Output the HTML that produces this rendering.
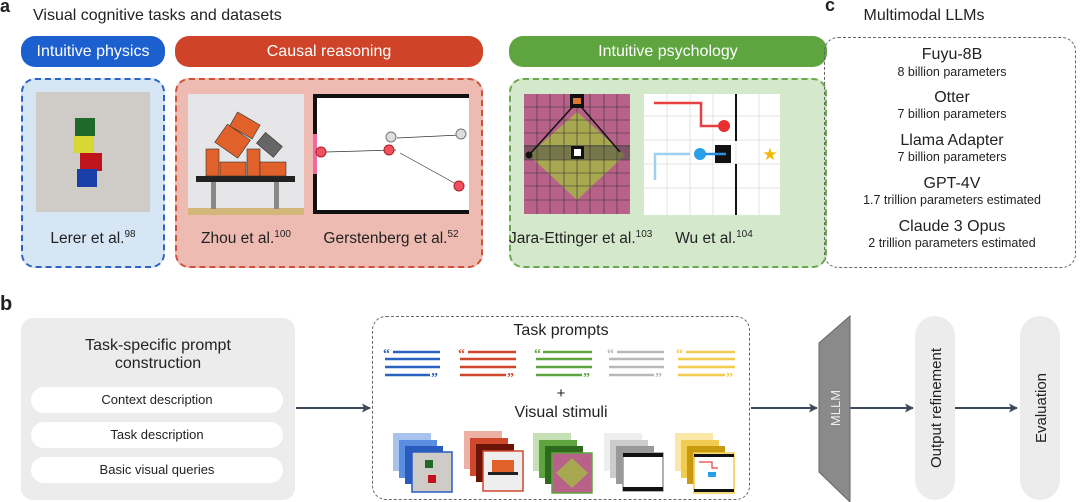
<!DOCTYPE html>
<html><head><meta charset="utf-8"><style>
*{margin:0;padding:0;box-sizing:border-box}
body{width:1080px;height:502px;background:#fff;position:relative;overflow:hidden;font-family:"Liberation Sans",sans-serif;color:#222}
.a{position:absolute}
.pill{position:absolute;border-radius:14px;color:#fff;font-size:16px;text-align:center;line-height:31px}
.box{position:absolute;border:2px dashed;border-radius:14px}
.lbl{position:absolute;font-size:15.5px;text-align:center;white-space:nowrap}
sup{font-size:10px}
.m{position:absolute;left:824px;width:256px;text-align:center;white-space:nowrap}
.m1{font-size:16px}.m2{font-size:12.5px}
.wp{position:absolute;left:31px;width:252px;height:26px;background:#fff;border-radius:13px;font-size:13px;text-align:center;line-height:26px}
</style></head><body>
<div class="a" style="left:0;top:-4px;font-size:18px;font-weight:bold">a</div>
<div class="a" style="left:33px;top:7px;font-size:16px">Visual cognitive tasks and datasets</div>
<div class="pill" style="left:21px;top:36px;width:144px;background:#1c5fcf">Intuitive physics</div>
<div class="pill" style="left:175px;top:36px;width:308px;background:#cf4428">Causal reasoning</div>
<div class="pill" style="left:509px;top:36px;width:318px;background:#5ea540">Intuitive psychology</div>
<div class="box" style="left:21px;top:78px;width:144px;height:190px;background:#d6e6f5;border-color:#2c63c6"></div>
<div class="box" style="left:175px;top:78px;width:308px;height:190px;background:#eebbb2;border-color:#d0503a"></div>
<div class="box" style="left:509px;top:78px;width:318px;height:190px;background:#d4e8cb;border-color:#6aa84f"></div>
<svg class="a" style="left:0;top:0" width="1080" height="502">
<rect x="36" y="92" width="114" height="120" fill="#cfccc8"/>
<rect x="75" y="118" width="20" height="18" fill="#1d6a2a"/>
<rect x="74" y="136" width="20" height="17" fill="#d8d834"/>
<rect x="80" y="153" width="22" height="18" fill="#c0141c"/>
<rect x="77" y="169" width="20" height="18" fill="#1b3fa8"/>
<rect x="188" y="94" width="116" height="121" fill="#e6e6e8"/>
<rect x="188" y="208" width="116" height="7" fill="#d2b67a"/>
<rect x="196" y="176" width="99" height="6" fill="#222"/>
<rect x="211" y="182" width="5" height="27" fill="#888"/><rect x="274" y="182" width="5" height="27" fill="#888"/>
<rect x="206" y="149" width="13" height="27" fill="#e0622a" stroke="#333" stroke-width=".6"/>
<rect x="220" y="162" width="26" height="14" fill="#e0622a" stroke="#333" stroke-width=".6"/>
<rect x="247" y="149" width="13" height="27" fill="#e0622a" stroke="#333" stroke-width=".6"/>
<rect x="260" y="162" width="26" height="14" fill="#e0622a" stroke="#333" stroke-width=".6"/>
<g transform="rotate(35 232 142)"><rect x="218" y="130" width="28" height="22" fill="#e0622a" stroke="#333" stroke-width=".6"/></g>
<g transform="rotate(30 244 125)"><rect x="232" y="117" width="26" height="16" fill="#e0622a" stroke="#333" stroke-width=".6"/></g>
<g transform="rotate(40 268 145)"><rect x="258" y="137" width="22" height="14" fill="#666" stroke="#333" stroke-width=".6"/></g>
<rect x="313" y="94" width="156" height="120" fill="#fff"/>
<rect x="313" y="94" width="156" height="4" fill="#111"/><rect x="313" y="210" width="156" height="4" fill="#111"/>
<rect x="313" y="94" width="4" height="40" fill="#111"/><rect x="313" y="174" width="4" height="40" fill="#111"/>
<rect x="313" y="134" width="4" height="40" fill="#f06aa0"/>
<line x1="460" y1="135" x2="397" y2="138" stroke="#333" stroke-width=".7"/>
<line x1="396" y1="150" x2="326" y2="152" stroke="#333" stroke-width=".7"/>
<line x1="458" y1="185" x2="400" y2="153" stroke="#333" stroke-width=".7"/>
<circle cx="461" cy="134" r="5" fill="#ddd" stroke="#777"/><circle cx="391" cy="137" r="5" fill="#ddd" stroke="#777"/>
<circle cx="389" cy="150" r="5" fill="#f05060" stroke="#a22"/><circle cx="321" cy="152" r="5" fill="#f05060" stroke="#a22"/><circle cx="459" cy="186" r="5" fill="#f05060" stroke="#a22"/>
<rect x="524" y="94" width="106" height="120" fill="#b8628a"/>
<polygon points="577,112 625,155 577,200 529,155" fill="#a8a850"/>
<rect x="524" y="145" width="106" height="15" fill="#444" opacity=".5"/>
<g stroke="#333" stroke-width=".6">
<line x1="537" y1="94" x2="537" y2="214"/><line x1="550" y1="94" x2="550" y2="214"/><line x1="564" y1="94" x2="564" y2="214"/><line x1="577" y1="94" x2="577" y2="214"/><line x1="590" y1="94" x2="590" y2="214"/><line x1="604" y1="94" x2="604" y2="214"/><line x1="617" y1="94" x2="617" y2="214"/>
<line x1="524" y1="107" x2="630" y2="107"/><line x1="524" y1="120" x2="630" y2="120"/><line x1="524" y1="133" x2="630" y2="133"/><line x1="524" y1="146" x2="630" y2="146"/><line x1="524" y1="160" x2="630" y2="160"/><line x1="524" y1="173" x2="630" y2="173"/><line x1="524" y1="186" x2="630" y2="186"/><line x1="524" y1="200" x2="630" y2="200"/></g>
<polyline points="529,155 577,102 620,152" fill="none" stroke="#111" stroke-width="1.5"/>
<rect x="570" y="94" width="14" height="14" fill="#111"/><rect x="573" y="98" width="8" height="6" fill="#e07830"/>
<rect x="571" y="146" width="13" height="13" fill="#111"/><rect x="574" y="149" width="7" height="7" fill="#fff"/>
<circle cx="529" cy="155" r="3.5" fill="#111"/>
<rect x="644" y="94" width="136" height="121" fill="#fff"/>
<g stroke="#ddd" stroke-width=".8">
<line x1="667" y1="94" x2="667" y2="215"/><line x1="690" y1="94" x2="690" y2="215"/><line x1="713" y1="94" x2="713" y2="215"/><line x1="736" y1="94" x2="736" y2="215"/><line x1="759" y1="94" x2="759" y2="215"/>
<line x1="644" y1="116" x2="780" y2="116"/><line x1="644" y1="140" x2="780" y2="140"/><line x1="644" y1="164" x2="780" y2="164"/><line x1="644" y1="188" x2="780" y2="188"/></g>
<line x1="736" y1="94" x2="736" y2="141" stroke="#111" stroke-width="2"/><line x1="736" y1="164" x2="736" y2="215" stroke="#111" stroke-width="2"/>
<polyline points="654,103 701,103 701,126 718,126" fill="none" stroke="#e84040" stroke-width="2.5"/>
<circle cx="724" cy="126" r="6" fill="#e83030"/>
<polyline points="655,180 655,154 690,154" fill="none" stroke="#9dd0f0" stroke-width="2.5"/>
<circle cx="700" cy="154" r="6" fill="#2aa0e8"/>
<rect x="715" y="145" width="16" height="18" fill="#111"/>
<line x1="705" y1="154" x2="726" y2="154" stroke="#2a90e0" stroke-width="2.5"/>
<text x="770" y="160" font-size="17" fill="#f0b800" text-anchor="middle">★</text>
</svg>
<div class="lbl" style="left:21px;width:144px;top:229px">Lerer et al.<sup>98</sup></div>
<div class="lbl" style="left:188px;width:116px;top:229px">Zhou et al.<sup>100</sup></div>
<div class="lbl" style="left:313px;width:156px;top:229px">Gerstenberg et al.<sup>52</sup></div>
<div class="lbl" style="left:509px;width:130px;top:229px">Jara-Ettinger et al.<sup>103</sup></div>
<div class="lbl" style="left:664px;width:100px;top:229px">Wu et al.<sup>104</sup></div>
<div class="a" style="left:825px;top:-5px;font-size:18px;font-weight:bold">c</div>
<div class="a" style="left:824px;width:200px;text-align:center;top:7px;font-size:16px">Multimodal LLMs</div>
<div class="box" style="left:824px;top:37px;width:252px;height:231px;border-color:#666;border-width:1.5px"></div>
<div class="m m1" style="top:46px">Fuyu-8B</div><div class="m m2" style="top:65px">8 billion parameters</div>
<div class="m m1" style="top:89px">Otter</div><div class="m m2" style="top:107px">7 billion parameters</div>
<div class="m m1" style="top:132px">Llama Adapter</div><div class="m m2" style="top:150px">7 billion parameters</div>
<div class="m m1" style="top:175px">GPT-4V</div><div class="m m2" style="top:193px">1.7 trillion parameters estimated</div>
<div class="m m1" style="top:218px">Claude 3 Opus</div><div class="m m2" style="top:236px">2 trillion parameters estimated</div>
<div class="a" style="left:0;top:293px;font-size:20px;font-weight:bold">b</div>
<div class="a" style="left:21px;top:318px;width:274px;height:182px;background:#ececec;border-radius:12px"></div>
<div class="a" style="left:21px;width:274px;top:337px;text-align:center;font-size:16px;line-height:18px">Task-specific prompt<br>construction</div>
<div class="wp" style="top:387px">Context description</div>
<div class="wp" style="top:422px">Task description</div>
<div class="wp" style="top:457px">Basic visual queries</div>
<div class="box" style="left:372px;top:316px;width:378px;height:184px;border-color:#666;border-width:1.5px"></div>
<div class="a" style="left:372px;width:378px;text-align:center;top:322px;font-size:16px">Task prompts</div>
<div class="a" style="left:372px;width:378px;text-align:center;top:385px;font-size:15px">+</div>
<div class="a" style="left:372px;width:378px;text-align:center;top:404px;font-size:16px">Visual stimuli</div>
<div class="a" style="left:915px;top:316px;width:40px;height:184px;background:#ececec;border-radius:20px"></div>
<div class="a" style="left:1020px;top:316px;width:40px;height:184px;background:#ececec;border-radius:20px"></div>
<svg class="a" style="left:0;top:0" width="1080" height="502">
<defs><marker id="ar" markerUnits="userSpaceOnUse" markerWidth="9" markerHeight="9" refX="8" refY="4.5" orient="auto"><path d="M0,0 L9,4.5 L0,9 L2,4.5 Z" fill="#3e4a5c"/></marker></defs>
<g stroke="#3e4a5c" stroke-width="2" marker-end="url(#ar)">
<line x1="296" y1="408" x2="370" y2="408"/><line x1="751" y1="408" x2="817" y2="408"/>
<line x1="850" y1="408" x2="913" y2="408"/><line x1="955" y1="408" x2="1017" y2="408"/></g>
<polygon points="819,343 850,316 850,502 819,472" fill="#8a8a8a" stroke="#666"/>
<text transform="translate(840,408) rotate(-90)" text-anchor="middle" font-size="13" fill="#eee" font-family="Liberation Sans">MLLM</text>
<text transform="translate(941,408) rotate(-90)" text-anchor="middle" font-size="15" fill="#222" font-family="Liberation Sans">Output refinement</text>
<text transform="translate(1046,408) rotate(-90)" text-anchor="middle" font-size="15" fill="#222" font-family="Liberation Sans">Evaluation</text>
<g stroke-width="2.5" font-family="Liberation Serif" font-weight="bold" font-size="14">
<g stroke="#2a62c0" fill="#2a62c0"><line x1="393" y1="352" x2="440" y2="352"/><line x1="385" y1="359" x2="440" y2="359"/><line x1="385" y1="367" x2="440" y2="367"/><line x1="385" y1="375" x2="430" y2="375"/><text x="383" y="358" stroke="none">“</text><text x="431" y="382" stroke="none">”</text></g>
<g stroke="#d0482c" fill="#d0482c"><line x1="468" y1="352" x2="516" y2="352"/><line x1="460" y1="359" x2="516" y2="359"/><line x1="460" y1="367" x2="516" y2="367"/><line x1="460" y1="375" x2="506" y2="375"/><text x="458" y="358" stroke="none">“</text><text x="507" y="382" stroke="none">”</text></g>
<g stroke="#5ea540" fill="#5ea540"><line x1="543" y1="352" x2="592" y2="352"/><line x1="536" y1="359" x2="592" y2="359"/><line x1="536" y1="367" x2="592" y2="367"/><line x1="536" y1="375" x2="582" y2="375"/><text x="534" y="358" stroke="none">“</text><text x="583" y="382" stroke="none">”</text></g>
<g stroke="#b8b8b8" fill="#b8b8b8"><line x1="617" y1="352" x2="664" y2="352"/><line x1="609" y1="359" x2="664" y2="359"/><line x1="609" y1="367" x2="664" y2="367"/><line x1="609" y1="375" x2="654" y2="375"/><text x="607" y="358" stroke="none">“</text><text x="655" y="382" stroke="none">”</text></g>
<g stroke="#f2cc50" fill="#f2cc50"><line x1="686" y1="352" x2="735" y2="352"/><line x1="678" y1="359" x2="735" y2="359"/><line x1="678" y1="367" x2="735" y2="367"/><line x1="678" y1="375" x2="725" y2="375"/><text x="676" y="358" stroke="none">“</text><text x="726" y="382" stroke="none">”</text></g>
</g>
<g><rect x="393" y="433" width="38" height="38" fill="#a8c4ee"/><rect x="399" y="440" width="38" height="38" fill="#5a8ee0"/><rect x="405" y="446" width="38" height="38" fill="#2a5cc0"/><rect x="412" y="452" width="40" height="40" fill="#cfccc8" stroke="#2a5cc0" stroke-width="1.5"/><rect x="425" y="460" width="8" height="8" fill="#1d6a2a"/><rect x="428" y="475" width="8" height="8" fill="#c0141c"/></g>
<g><rect x="464" y="431" width="38" height="38" fill="#ecb0a4"/><rect x="470" y="438" width="38" height="38" fill="#d0482c"/><rect x="476" y="444" width="38" height="38" fill="#6a1408"/><rect x="483" y="451" width="40" height="40" fill="#eee" stroke="#d0482c" stroke-width="1.5"/><rect x="488" y="472" width="30" height="3" fill="#222"/><rect x="492" y="460" width="22" height="12" fill="#e0622a"/></g>
<g><rect x="533" y="433" width="38" height="38" fill="#c4e0b4"/><rect x="539" y="440" width="38" height="38" fill="#5ea540"/><rect x="545" y="446" width="38" height="38" fill="#2e6a1e"/><rect x="552" y="453" width="40" height="40" fill="#b8628a" stroke="#5ea540" stroke-width="1.5"/><polygon points="572,458 588,473 572,488 556,473" fill="#a8a850"/></g>
<g><rect x="604" y="433" width="38" height="38" fill="#eee"/><rect x="610" y="440" width="38" height="38" fill="#ccc"/><rect x="616" y="446" width="38" height="38" fill="#999"/><rect x="623" y="453" width="40" height="38" fill="#fff" stroke="#999" stroke-width="1.5"/><rect x="623" y="453" width="40" height="4" fill="#111"/><rect x="623" y="487" width="40" height="4" fill="#111"/></g>
<g><rect x="675" y="433" width="38" height="38" fill="#fbe8a8"/><rect x="681" y="440" width="38" height="38" fill="#f2cc50"/><rect x="687" y="446" width="38" height="38" fill="#c89a10"/><rect x="694" y="453" width="40" height="40" fill="#fff" stroke="#f2cc50" stroke-width="1.5"/><rect x="694" y="454" width="40" height="3" fill="#111"/><rect x="694" y="489" width="40" height="3" fill="#111"/><polyline points="699,462 712,462 712,468 718,468" fill="none" stroke="#e84040" stroke-width="1.2"/><rect x="708" y="472" width="8" height="5" fill="#2aa0e8"/></g>
</svg>
</body></html>
